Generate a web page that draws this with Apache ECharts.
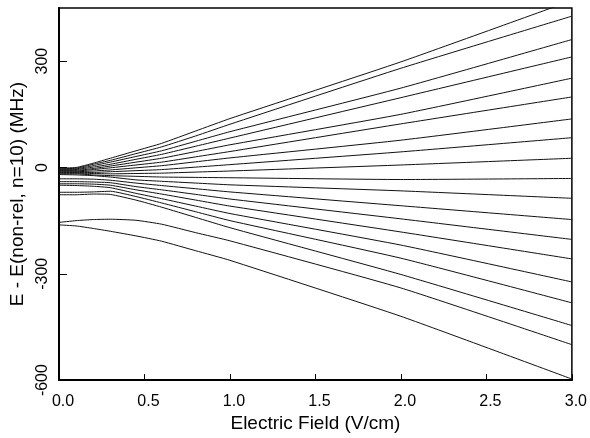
<!DOCTYPE html>
<html>
<head>
<meta charset="utf-8">
<script src="https://cdn.jsdelivr.net/npm/echarts@6/dist/echarts.min.js"></script>
<style>
html,body{margin:0;padding:0;background:#fff;}
#chart{width:590px;height:438px;}
</style>
</head>
<body>
<div id="chart"></div>
<script>
// Electric field values (V/cm) where each level is sampled
var fieldE = [0, 0.1, 0.2, 0.3, 0.45, 0.6, 0.8, 1.0, 2.0, 3.0];
// Energy levels E - E(non-rel, n=10) in MHz, top to bottom at 3.0 V/cm
var level1  = [-2, 0, 12, 26, 47, 68, 103, 138, 298, 471];
var level2  = [-4, -2, 9, 20, 39, 58, 89, 122, 280, 427];
var level3  = [-5, -4, 5, 15, 31, 47, 74, 101, 224, 361];
var level4  = [-7, -6, 1, 9, 23, 37, 60, 83, 197, 312];
var level5  = [-8, -8, -3, 4, 15, 26, 45, 64, 150, 252];
var level6  = [-10, -10, -6, -1, 7, 15, 30, 45, 123, 199];
var level7  = [-12, -12, -10, -7, -1, 5, 16, 27, 77, 137];
var level8  = [-14, -14, -14, -12, -9, -6, 1, 8, 44, 84];
var level9  = [-16, -16, -17, -18, -17, -16, -13, -10, 7, 26];
var level10 = [-18, -18, -21, -23, -25, -27, -28, -29, -34, -31];
var level11 = [-20, -21, -23, -27, -35, -39, -44, -49, -66, -87];
var level12 = [-32, -32, -33, -36, -44, -51, -60, -69, -108, -147];
var level13 = [-40, -40, -41, -43, -54, -63, -76, -89, -145, -203];
var level14 = [-46, -46, -47, -50, -63, -75, -92, -109, -182, -258];
var level15 = [-50, -51, -53, -57, -73, -88, -109, -130, -219, -323];
var level16 = [-70, -70, -69, -67, -82, -100, -125, -150, -256, -382];
var level17 = [-77, -77, -75, -76, -92, -112, -141, -170, -302, -446];
var level18 = [-155, -150, -147, -146, -149, -160, -184, -207, -340, -500];
var level19 = [-162, -165, -172, -180, -193, -208, -235, -262, -420, -597];

var yTicks = [-600, -300, 0, 300];
var xTicks = [0, 0.5, 1.0, 1.5, 2.0, 2.5, 3.0];

var levels = [level1, level2, level3, level4, level5, level6, level7, level8, level9, level10,
              level11, level12, level13, level14, level15, level16, level17, level18, level19];

var series = levels.map(function (lv, i) {
  return {
    type: 'line',
    name: 'level' + (i + 1),
    data: lv.map(function (v, j) { return [fieldE[j], v]; }),
    smooth: 0.15,
    showSymbol: false,
    symbol: 'none',
    clip: true,
    lineStyle: { color: '#111', width: 1 },
    emphasis: { disabled: true },
    silent: true
  };
});

var chart = echarts.init(document.getElementById('chart'), null, { renderer: 'canvas' });
chart.setOption({
  animation: false,
  backgroundColor: '#fff',
  grid: { left: 58, right: 16, top: 8, bottom: 52, show: true, borderColor: '#000', borderWidth: 1.5, containLabel: false },
  xAxis: {
    type: 'value', min: 0, max: 3, interval: 0.5,
    name: 'Electric Field (V/cm)', nameLocation: 'middle', nameGap: 19,
    nameTextStyle: { fontFamily: 'Liberation Sans', fontSize: 19, color: '#000' },
    axisLine: { show: true, onZero: false, lineStyle: { color: '#000', width: 2 } },
    axisTick: { show: true, inside: true, length: 6, lineStyle: { color: '#000', width: 1 } },
    axisLabel: { fontFamily: 'Liberation Sans', fontSize: 16, color: '#000', margin: 13, padding: [0, 0, 0, 8],
      formatter: function (v) { return xTicks.indexOf(v) >= 0 ? v.toFixed(1) : ''; } },
    splitLine: { show: false }
  },
  yAxis: {
    type: 'value', min: -600, max: 450, interval: 300,
    name: 'E - E(non-rel, n=10) (MHz)', nameLocation: 'middle', nameGap: 32,
    nameTextStyle: { fontFamily: 'Liberation Sans', fontSize: 19, color: '#000' },
    axisLine: { show: true, onZero: false, lineStyle: { color: '#000', width: 2 } },
    axisTick: { show: true, inside: true, length: 8, lineStyle: { color: '#000', width: 1 } },
    axisLabel: { fontFamily: 'Liberation Sans', fontSize: 16, color: '#000', rotate: 90, margin: 8, showMaxLabel: false,
      formatter: function (v) { return yTicks.indexOf(v) >= 0 ? String(v) : ''; } },
    splitLine: { show: false }
  },
  series: series
});
</script>
</body>
</html>
